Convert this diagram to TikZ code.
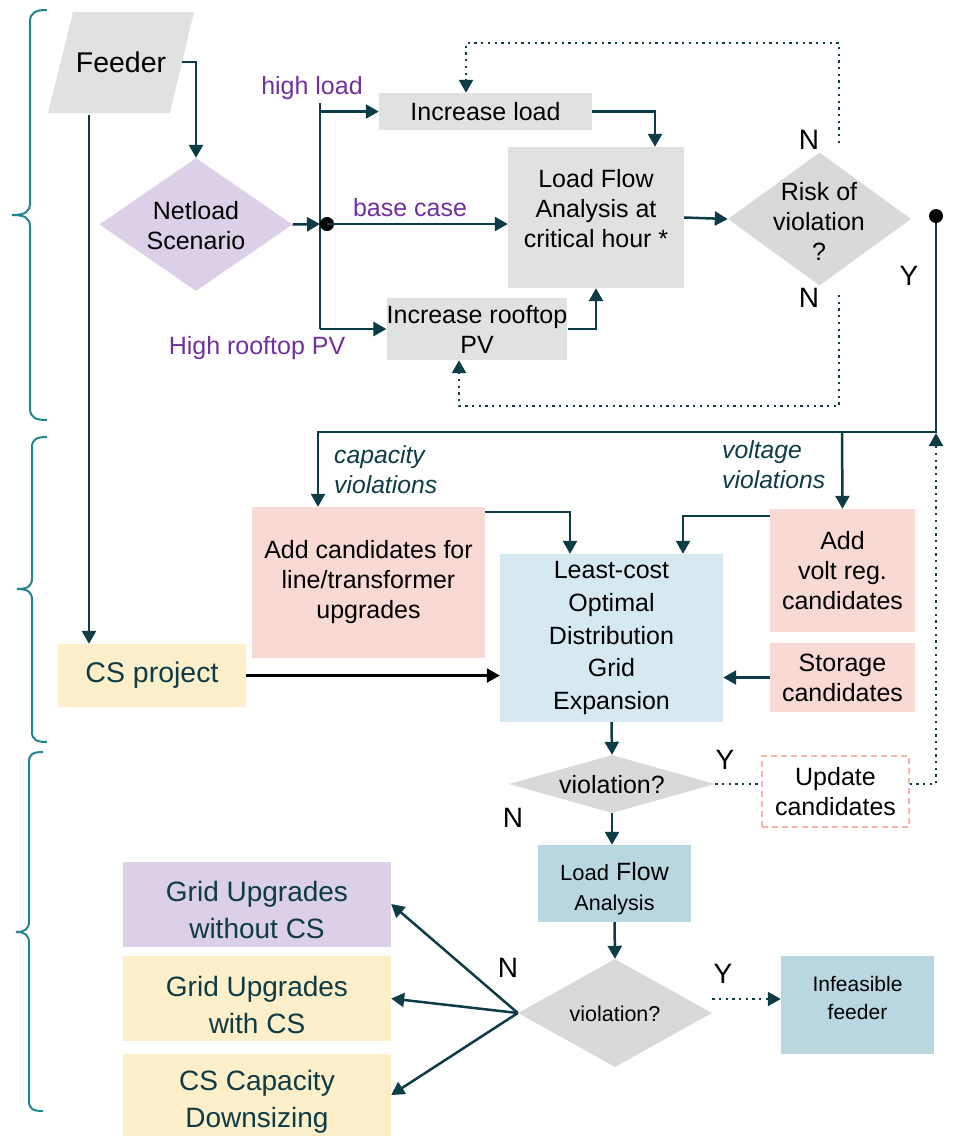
\documentclass[tikz,border=0pt]{standalone}
\usepackage{fontspec}
\setmainfont{Liberation Sans}
\usetikzlibrary{arrows.meta,shapes.geometric,calc}
\definecolor{dk}{HTML}{0D3B46}
\definecolor{purp}{HTML}{7030A0}
\definecolor{brc}{HTML}{23868F}
\definecolor{grayA}{HTML}{E0E1E1}
\definecolor{grayD}{HTML}{D9D9D9}
\definecolor{lav}{HTML}{DCCFE8}
\definecolor{pinkA}{HTML}{F8D9D4}
\definecolor{lblue}{HTML}{D6E9F0}
\definecolor{mblue}{HTML}{B8D7E1}
\definecolor{yel}{HTML}{FDEFC9}
\definecolor{pinkB}{HTML}{F4B3AB}
\newcommand\fsz[2]{\fontsize{#1pt}{#2pt}\selectfont}
\tikzset{
  arr/.style={draw=dk, line width=2.5pt, -{Triangle[length=13pt,width=14pt]}},
  arrK/.style={draw=black, line width=2.5pt, -{Triangle[length=13pt,width=14pt]}},
  ln/.style={draw=dk, line width=2.5pt},
  dotl/.style={draw=dk, line width=2.3pt, dash pattern=on 2.3pt off 4.4pt},
  dotarr/.style={dotl, -{Triangle[length=13pt,width=14pt]}},
  bx/.style={rectangle, inner sep=0pt, align=center, font=\fsz{25}{30}},
  dia/.style={diamond, inner sep=0pt},
  txt/.style={inner sep=0pt, align=center, font=\fsz{25}{30}},
  lbl/.style={inner sep=0pt, font=\fsz{28}{30}},
  plbl/.style={inner sep=0pt, font=\fsz{25}{30}, text=purp},
  ilbl/.style={inner sep=0pt, align=left, font=\fsz{24.7}{30}\itshape, text=dk},
  brace/.style={draw=brc, line width=2pt},
}
\begin{document}
\begin{tikzpicture}[x=1pt,y=-1pt]
\useasboundingbox (0,0) rectangle (959,1136);

% braces
\draw[brace] (47,10) .. controls (36,10) and (30,12) .. (30,22) -- (30,203) .. controls (30,212) and (25,215) .. (12,215) .. controls (25,215) and (30,218) .. (30,227) -- (30,408) .. controls (30,418) and (36,420) .. (47,420);
\draw[brace] (47,437) .. controls (37,437) and (32,439) .. (32,447) -- (32,578) .. controls (32,586) and (28,589) .. (17,589) .. controls (28,589) and (32,592) .. (32,600) -- (32,732) .. controls (32,740) and (37,742) .. (47,742);
\draw[brace] (43,752) .. controls (33,752) and (29,754) .. (29,762) -- (29,921) .. controls (29,929) and (25,932) .. (16,932) .. controls (25,932) and (29,935) .. (29,943) -- (29,1101) .. controls (29,1109) and (33,1111) .. (43,1111);

% Feeder
\fill[grayA] (73,12) -- (194,12) -- (170,113) -- (48,113) -- cycle;
\node[bx, font=\fsz{28.5}{30}, minimum width=122pt, minimum height=101pt] (feeder) at (121,62) {Feeder};

% Netload diamond
\node[dia, fill=lav, minimum width=193pt, minimum height=133pt] (netload) at (196,224.5) {};
\node[txt] (netloadT) at (196,226) {Netload\\Scenario};

% top boxes
\node[bx, fill=grayA, minimum width=213pt, minimum height=37pt] (incload) at (485.5,111.5) {Increase load};
\node[bx, fill=grayA, minimum width=180pt, minimum height=62pt] (incpv) at (477,329) {Increase rooftop\\PV};
\node[bx, fill=grayA, minimum width=176pt, minimum height=141pt] (lfa) at (596,217.5) {};
\node[txt] (lfaT) at (596,209) {Load Flow\\Analysis at\\critical hour *};
\node[dia, fill=grayD, minimum width=183pt, minimum height=133pt] (risk) at (819.5,219) {};
\node[txt] (riskT) at (819,221) {Risk of\\violation\\?};

% labels top
\node[plbl] (hl) at (312,88) {high load};
\node[plbl] (bc) at (410,208) {base case};
\node[plbl] (hpv) at (257,348) {High rooftop PV};
\node[lbl] (n1) at (809,140) {N};
\node[lbl] (n2) at (809,298) {N};
\node[lbl] (y1) at (909,276) {Y};

% middle boxes
\node[bx, fill=pinkA, minimum width=233pt, minimum height=151pt] (addcap) at (368.5,582.5) {Add candidates for\\line/transformer\\upgrades};
\node[bx, fill=lblue, minimum width=223pt, minimum height=168pt, font=\fsz{25}{32.7}] (least) at (611.5,638) {Least-cost\\Optimal\\Distribution\\Grid\\Expansion};
\node[bx, fill=pinkA, minimum width=145pt, minimum height=123pt] (volt) at (842.5,570.5) {Add\\volt reg.\\candidates};
\node[bx, fill=pinkA, minimum width=145pt, minimum height=69pt, font=\fsz{25}{30}] (storage) at (842.5,677.5) {Storage\\candidates};
\node[bx, fill=yel, minimum width=188pt, minimum height=63pt, font=\fsz{28.5}{30}, text=dk] (cs) at (152,675.5) {CS project};
\node[ilbl, anchor=west] (capL) at (334,470) {capacity\\violations};
\node[ilbl, anchor=west] (volL) at (722,465) {voltage\\violations};

% lower part
\node[dia, fill=grayD, minimum width=206pt, minimum height=58pt] (viol1) at (612,784) {};
\node[txt, font=\fsz{25}{30}] (viol1T) at (612,785) {violation?};
\node[bx, draw=pinkB, line width=1.5pt, dash pattern=on 6pt off 4pt, minimum width=147pt, minimum height=71pt, font=\fsz{25}{29.5}] (update) at (835.5,791.5) {Update\\candidates};
\node[lbl] (y2) at (725,760) {Y};
\node[lbl] (n3) at (513,818) {N};
\node[bx, fill=mblue, minimum width=153pt, minimum height=77pt] (lfa2) at (614.5,883.5) {};
\node[txt] (lfa2T) at (614.5,889) {{\fsz{22}{30}Load} {\fsz{25}{30}Flow}\\{\fsz{21.5}{30}Analysis}};
\node[dia, fill=grayD, minimum width=194pt, minimum height=108pt] (viol2) at (615,1013) {};
\node[txt, font=\fsz{21.5}{30}] (viol2T) at (615,1014) {violation?};
\node[lbl] (n4) at (508,968) {N};
\node[lbl] (y3) at (723,974) {Y};
\node[bx, fill=mblue, minimum width=153pt, minimum height=98pt] (infeas) at (857.5,1005) {};
\node[txt, font=\fsz{21}{28}] (infeasT) at (857.5,998) {Infeasible\\feeder};

% outputs
\node[bx, fill=lav, minimum width=268pt, minimum height=85pt] (out1) at (257,904) {};
\node[txt, font=\fsz{28}{37}, text=dk] (out1T) at (257,910) {Grid Upgrades\\without CS};
\node[bx, fill=yel, minimum width=268pt, minimum height=85pt] (out2) at (257,998.5) {};
\node[txt, font=\fsz{28}{37}, text=dk] (out2T) at (257,1005) {Grid Upgrades\\with CS};
\node[bx, fill=yel, minimum width=268pt, minimum height=82pt] (out3) at (257,1095) {};
\node[txt, font=\fsz{28}{37}, text=dk] (out3T) at (257,1102) {CS Capacity\\Downsizing};

% coordinates
\coordinate (bT) at (320,103);
\coordinate (bB) at (320,329);
\coordinate (rN) at (839,143);
\coordinate (topR) at (839,43);
\coordinate (topL) at (466,43);
\coordinate (ilT) at ([xshift=-19.5pt]incload.north);
\coordinate (rS) at (839,295);
\coordinate (botR) at (839,406);
\coordinate (botL) at (459,406);
\coordinate (ipB) at ([xshift=-18pt]incpv.south);
\coordinate (capC) at (318,432);
\coordinate (volC) at (842,432);
\coordinate (vR) at (936,433);
\coordinate (fS) at (89,115);

% top connectors
\draw[arr] (feeder.east) -| (netload.north);
\draw[ln] (bT) -- (bB);
\draw[arr] (bT |- incload.west) -- (incload.west);
\draw[arr] (bB) -- (incpv.west);
\draw[arr] (netload.east) -- (320,224);
\node[circle, fill=black, minimum size=14pt, inner sep=0pt] (dot1) at (327,224) {};
\draw[arr] (dot1.center) -- (lfa.west |- dot1.center);
\draw[arr] (incload.east) -| ([xshift=59pt]lfa.north);
\draw[arr] (incpv.east) -| (lfa.south);
\draw[arr] (lfa.east) -- (risk.west);
\draw[dotarr] (rN) -- (topR) -- (topL) -- (ilT);
\draw[dotarr] (rS) -- (botR) -- (botL) -- (ipB);

% Y branch
\draw[arr] (936,216) |- (capC) -- (capC |- addcap.north);
\node[circle, fill=black, minimum size=14pt, inner sep=0pt] (dot2) at (936,216) {};
\draw[arr] (volC) -- (volt.north);
\draw[dotarr] (update.east |- viol1.east) -| (vR);

% middle connectors
\draw[arr] (fS) -- (fS |- cs.north);
\draw[arr] (addcap.east |- 0,512) -| ([xshift=-41.5pt]least.north);
\draw[arr] (volt.west |- 0,516) -| ([xshift=71.5pt]least.north);
\draw[arr] (storage.west) -- (least.east |- storage.west);
\draw[arrK] (cs.east) -- (least.west |- cs.east);

% lower connectors
\draw[arr] (least.south) -- (viol1.north);
\draw[dotl] (viol1.east) -- (update.west |- viol1.east);
\draw[arr] (viol1.south) -- (lfa2.north -| viol1.south);
\draw[arr] (lfa2.south) -- (viol2.north);
\draw[dotarr] (viol2.east |- 0,999) -- (infeas.west |- 0,999);
\draw[arr] (viol2.west) -- (out1.east);
\draw[arr] (viol2.west) -- (out2.east);
\draw[arr] (viol2.west) -- (out3.east);
\end{tikzpicture}
\end{document}
